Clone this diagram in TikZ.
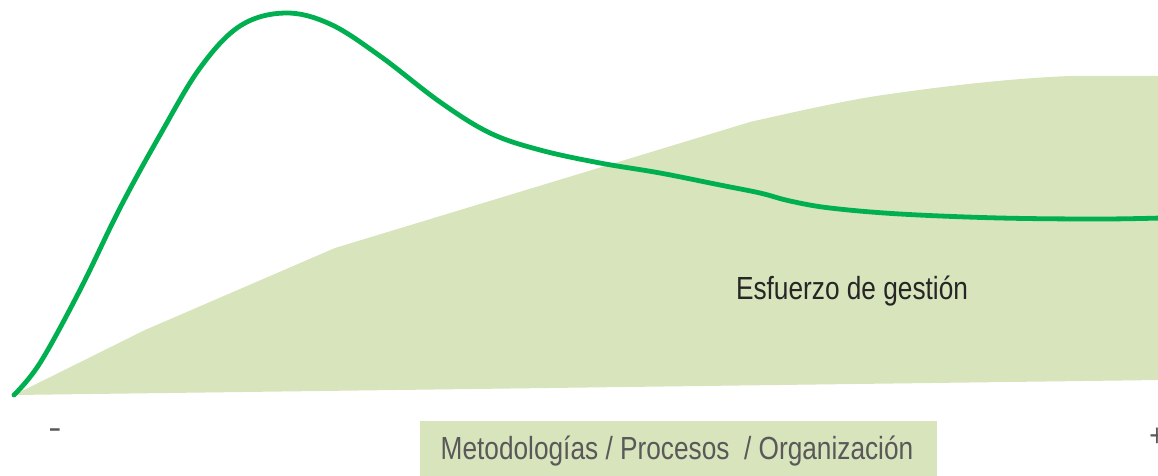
\documentclass[tikz,border=0pt]{standalone}
\usepackage{fontspec}
\newfontfamily\narrowsans[FakeStretch=0.82]{Liberation Sans}
\definecolor{areafill}{HTML}{D8E4BC}
\definecolor{curvegreen}{HTML}{00B050}
\definecolor{txtdark}{HTML}{262626}
\definecolor{txtgray}{HTML}{595959}
\begin{document}
\begin{tikzpicture}[x=1pt,y=-1pt,
  lbl/.style={font=\narrowsans\fontsize{32}{36}\selectfont, inner sep=0pt}]
\useasboundingbox (0,0) rectangle (1158,476);
% shaded area
\fill[areafill] (14,395) -- (145,330) -- (335,248) -- (750,122)
  .. controls (820,106) and (860,98) .. (890,94)
  .. controls (960,84) and (1020,78) .. (1070,76) -- (1160,76)
  -- (1160,380) -- cycle;
% green curve
\draw[curvegreen, line width=4.8pt, line cap=round, line join=round]
  plot[smooth, tension=0.6] coordinates {
  (14,395) (40,363) (80,290) (120,208) (160,135) (200,68) (240,26) (285,13)
  (330,24) (380,56) (440,102) (490,133) (540,150) (600,163) (660,173)
  (720,185) (760,193) (790,201) (830,208) (900,214) (1000,218) (1100,219) (1162,218)};
% labels
\node[lbl, text=txtdark] (effort) at (852,291) {Esfuerzo de gesti\'on};
\fill[areafill] (420,421) rectangle (937,476);
\node[lbl, text=txtgray] (axis) at (677,451) {Metodolog\'ias / Procesos\ \ / Organizaci\'on};
\node[lbl, text=txtgray] (minus) at (55,434) {\scalebox{1.5}[1]{-}};
\node[lbl, text=txtgray] (plus) at (1157,437) {+};
\end{tikzpicture}
\end{document}
